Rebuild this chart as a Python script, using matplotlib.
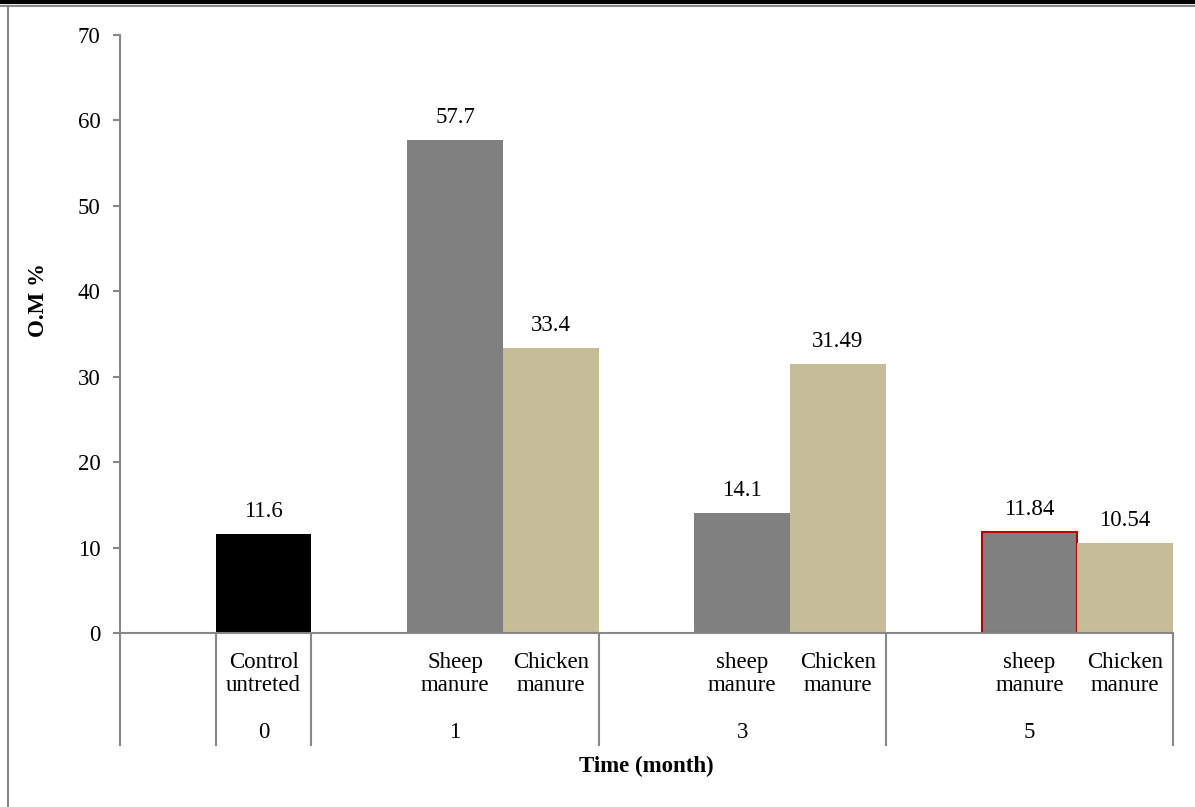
import matplotlib.pyplot as plt
from matplotlib.lines import Line2D
from matplotlib.transforms import blended_transform_factory

plt.rcParams['font.family'] = ['Liberation Serif', 'DejaVu Serif']

# organic matter (%) per treatment, grouped by sampling month
months = ['0', '1', '3', '5']
treatments = [['Control\nuntreted'],
              ['Sheep\nmanure', 'Chicken\nmanure'],
              ['sheep\nmanure', 'Chicken\nmanure'],
              ['sheep\nmanure', 'Chicken\nmanure']]
om_values = [[11.6], [57.7, 33.4], [14.1, 31.49], [11.84, 10.54]]
om_labels = [['11.6'], ['57.7', '33.4'], ['14.1', '31.49'], ['11.84', '10.54']]

BLACK = '#000000'
GREY = '#808080'
TAN = '#C4BD97'
AXIS = '#888888'
FS = 16.5

fig = plt.figure(figsize=(11.95, 8.07), dpi=100)
ax = fig.add_axes([120 / 1195, 174 / 807, 1053 / 1195, 598 / 807])

# each month gets one empty slot in front of its bars
slot = 0
edges = [-0.5]
for g, vals in enumerate(om_values):
    slot += 1
    first = slot
    for k, v in enumerate(vals):
        if g == 0:
            color = BLACK
        else:
            color = GREY if k == 0 else TAN
        edge = '#C00000' if (g == 3 and k == 0) else color
        ax.bar(slot, v, width=1.0, color=color, edgecolor=edge,
               linewidth=1.5 if edge != color else 0, zorder=2)
        ax.annotate(om_labels[g][k], (slot, v), xytext=(0, 12),
                    textcoords='offset points', ha='center', va='baseline',
                    fontsize=FS)
        ax.text(slot, -0.0686, treatments[g][k], ha='center', va='center',
                fontsize=FS, linespacing=1.15,
                transform=blended_transform_factory(ax.transData, ax.transAxes))
        slot += 1
    ax.text(first, -0.1656, months[g], ha='center', va='center', fontsize=FS,
            transform=blended_transform_factory(ax.transData, ax.transAxes))
    if g == 0:
        edges.append(first - 0.5)
    edges.append(slot - 0.5)

ax.set_xlim(-0.5, slot - 0.5)
ax.set_ylim(0, 70)
ax.set_yticks(range(0, 71, 10))
ax.set_xticks([])

for side in ('top', 'right'):
    ax.spines[side].set_visible(False)
for side in ('left', 'bottom'):
    ax.spines[side].set_color(AXIS)
    ax.spines[side].set_linewidth(1.5)
ax.tick_params(axis='y', direction='out', length=5, width=1.5, color=AXIS,
               pad=9, labelsize=FS)

# divider lines of the two-level category axis
trans = blended_transform_factory(ax.transData, ax.transAxes)
for x in edges:
    ax.add_line(Line2D([x, x], [0, -0.187], transform=trans, color=AXIS,
                       linewidth=1.5, clip_on=False))

ax.text(0.5, -0.224, 'Time (month)', transform=ax.transAxes, ha='center',
        va='center', fontsize=FS, fontweight='bold')
fig.text(38 / 1195, 1 - 300 / 807, 'O.M %', rotation=90, ha='center',
         va='center', fontsize=FS, fontweight='bold')

# outer frame
fig.add_artist(Line2D([0, 1], [1 - 1.5 / 807] * 2, color='black', linewidth=3))
fig.add_artist(Line2D([0, 1], [1 - 5.5 / 807] * 2, color=AXIS, linewidth=1.5))
fig.add_artist(Line2D([8 / 1195] * 2, [0, 1 - 5.5 / 807], color=AXIS, linewidth=1.5))

fig.savefig('out.png', dpi=100)
